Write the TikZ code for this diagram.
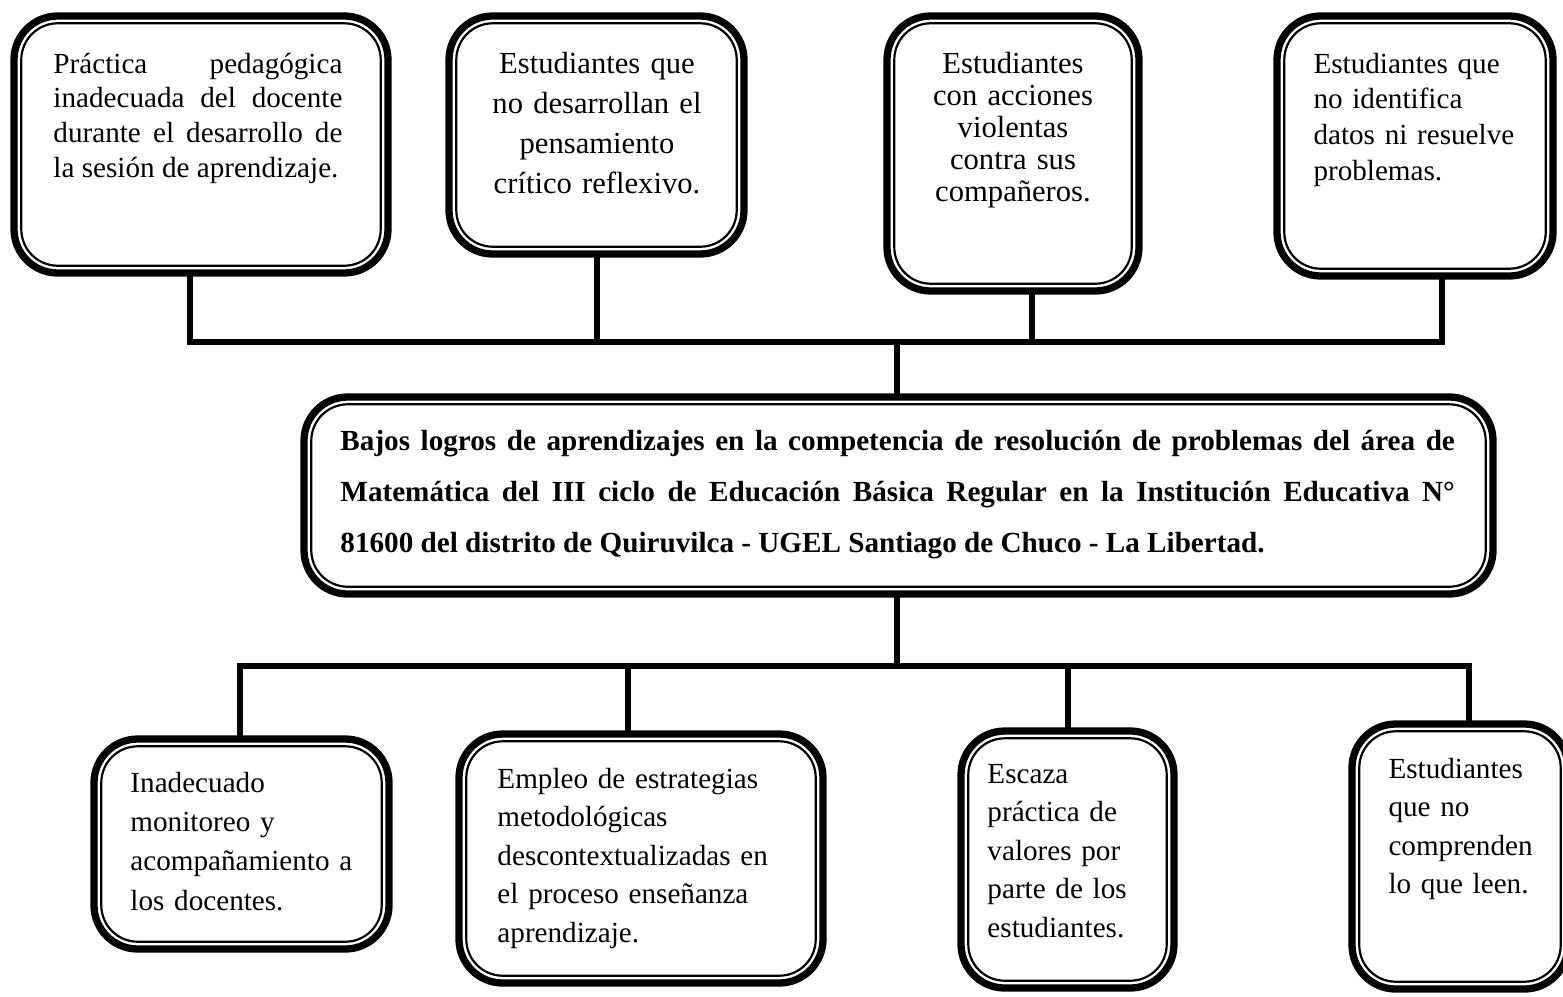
\documentclass[tikz,border=0pt]{standalone}
\usepackage{fontspec}
\setmainfont{Liberation Serif}
\usetikzlibrary{fit}

\begin{document}
\begin{tikzpicture}[
        x=0.01446cm, y=-0.01446cm,
        caja/.style={draw, line width=3pt, rounded corners=18pt, inner sep=0pt,
            path picture={\draw[line width=0.9pt, rounded corners=15pt]
                ([shift={(3pt,3pt)}]path picture bounding box.south west) rectangle
                ([shift={(-3pt,-3pt)}]path picture bounding box.north east);}},
        texto/.style={inner sep=0pt, anchor=base west, align=left, font=\fontsize{12}{15.9}\selectfont},
        centrado/.style={inner sep=0pt, anchor=base, align=center},
        linea/.style={line width=2.3pt, line cap=rect}
    ]
        \useasboundingbox (0,0) rectangle (1563,996);
        \clip (0,0) rectangle (1563,996);

        % ========== EFECTOS (Top Row) ==========
        \node[caja, fit={(14,16) (388,273)}] (efecto1) {};
        \node[caja, fit={(449,16) (744,254)}] (efecto2) {};
        \node[caja, fit={(887,16) (1139,291)}] (efecto3) {};
        \node[caja, fit={(1277,16) (1553,276)}] (efecto4) {};

        \node[texto, align=justify, text width=4.18cm, font=\fontsize{12}{14.4}\selectfont] (txtEfecto1) at (53,73)
            {Práctica pedagógica\linebreak inadecuada del docente\linebreak durante el desarrollo de\linebreak la sesión de aprendizaje.};
        \node[centrado, text width=3.6cm, font=\fontsize{12.6}{16.5}\selectfont] (txtEfecto2) at (597,73)
            {Estudiantes que\\no desarrollan el\\pensamiento\\crítico reflexivo.};
        \node[centrado, text width=3.2cm, font=\fontsize{12.6}{13.2}\selectfont] (txtEfecto3) at (1013,73)
            {Estudiantes\\con acciones\\violentas\\contra sus\\compañeros.};
        \node[texto, text width=3.4cm, font=\fontsize{12}{14.8}\selectfont] (txtEfecto4) at (1313,73)
            {Estudiantes que\\no identifica\\datos ni resuelve\\problemas.};

        % ========== PROBLEMA (Middle Row) ==========
        \node[caja, fit={(304,397) (1493,594)}] (problema) {};
        \node[texto, align=justify, text width=16.12cm, font=\fontsize{12}{21}\selectfont\bfseries] (txtProblema) at (340,450)
            {Bajos logros de aprendizajes en la competencia de resolución de problemas del área de\linebreak Matemática del III ciclo de Educación Básica Regular en la Institución Educativa N°\linebreak 81600 del distrito de Quiruvilca - UGEL Santiago de Chuco - La Libertad.};

        % ========== CAUSAS (Bottom Row) ==========
        \node[caja, fit={(94,739) (389,949)}] (causa1) {};
        \node[caja, fit={(459,734) (823,983)}] (causa2) {};
        \node[caja, fit={(961,731) (1174,988)}] (causa3) {};
        \node[caja, fit={(1352,724) (1568,989)}] (causa4) {};

        \node[texto, text width=3.6cm, font=\fontsize{12}{16.2}\selectfont] (txtCausa1) at (130,792)
            {Inadecuado\\monitoreo y\\acompañamiento a\\los docentes.};
        \node[texto, text width=4.6cm] (txtCausa2) at (497,788)
            {Empleo de estrategias\\metodológicas\\descontextualizadas en\\el proceso enseñanza\\aprendizaje.};
        \node[texto, text width=2.8cm] (txtCausa3) at (987,783)
            {Escaza\\práctica de\\valores por\\parte de los\\estudiantes.};
        \node[texto, text width=2.4cm] (txtCausa4) at (1388,778)
            {Estudiantes\\que no\\comprenden\\lo que leen.};

        % ========== CONECTORES (arriba) ==========
        \coordinate (busArriba) at (897,342);
        \coordinate (p1) at (190,342);
        \coordinate (p2) at (597,342);
        \coordinate (p3) at (1032,342);
        \coordinate (p4) at (1442,342);

        \draw[linea] (p1 |- efecto1.south) -- (p1);
        \draw[linea] (p2 |- efecto2.south) -- (p2);
        \draw[linea] (p3 |- efecto3.south) -- (p3);
        \draw[linea] (p4 |- efecto4.south) -- (p4);
        \draw[linea] (p1) -- (p4);
        \draw[linea] (busArriba) -- (busArriba |- problema.north);

        % ========== CONECTORES (abajo) ==========
        \coordinate (busAbajo) at (897,666);
        \coordinate (q1) at (240,666);
        \coordinate (q2) at (628,666);
        \coordinate (q3) at (1068,666);
        \coordinate (q4) at (1469,666);

        \draw[linea] (busAbajo |- problema.south) -- (busAbajo);
        \draw[linea] (q1) -- (q4);
        \draw[linea] (q1) -- (q1 |- causa1.north);
        \draw[linea] (q2) -- (q2 |- causa2.north);
        \draw[linea] (q3) -- (q3 |- causa3.north);
        \draw[linea] (q4) -- (q4 |- causa4.north);

    \end{tikzpicture}
\end{document}
